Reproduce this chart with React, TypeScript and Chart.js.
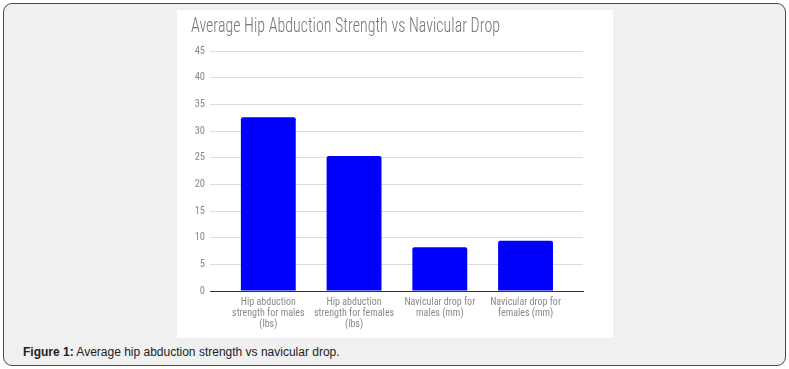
import React, { useEffect, useRef } from "react";
import { Chart, registerables } from "chart.js";

Chart.register(...registerables);

const categories: string[][] = [
  ["Hip abduction", "strength for males", "(lbs)"],
  ["Hip abduction", "strength for females", "(lbs)"],
  ["Navicular drop for", "males (mm)"],
  ["Navicular drop for", "females (mm)"],
];
const values: number[] = [32.6, 25.3, 8.2, 9.4];
const yTicks: number[] = [0, 5, 10, 15, 20, 25, 30, 35, 40, 45];
const titleText = "Average Hip Abduction Strength vs Navicular Drop";

const FONT = "'Roboto Condensed', Roboto, sans-serif";

const titlePlugin = {
  id: "leftTitle",
  afterDraw(chart: any) {
    const ctx = chart.ctx;
    ctx.save();
    ctx.font = `300 19.5px ${FONT}`;
    ctx.fillStyle = "#757575";
    ctx.textAlign = "left";
    ctx.textBaseline = "alphabetic";
    const w = ctx.measureText(titleText).width;
    const target = 309;
    ctx.translate(14, 22.3);
    ctx.scale(target / w, 1);
    ctx.fillText(titleText, 0, 0);
    ctx.restore();
  },
};

export default function App() {
  const ref = useRef<HTMLCanvasElement | null>(null);
  useEffect(() => {
    const c = ref.current;
    if (!c) return;
    const chart = new Chart(c, {
      type: "bar",
      data: {
        datasets: [
          {
            data: values.map((v, i) => ({ x: i, y: v })),
            backgroundColor: "#0000ff",
            borderRadius: 2,
            borderSkipped: "bottom",
            barPercentage: 1,
            categoryPercentage: 0.64,
          },
        ],
      },
      options: {
        responsive: false,
        animation: false,
        layout: { padding: { left: 0, right: 30, top: 41, bottom: 0 } },
        plugins: {
          legend: { display: false },
          tooltip: { enabled: false },
          title: { display: false },
        },
        scales: {
          x: {
            type: "linear",
            offset: false,
            min: -0.68,
            max: 3.67,
            afterBuildTicks: (s: any) => {
              s.ticks = categories.map((_, i) => ({ value: i }));
            },
            afterFit: (s: any) => {
              s.height = 47;
            },
            ticks: {
              autoSkip: false,
              maxRotation: 0,
              padding: 6,
              color: "#8a8a8a",
              font: { family: FONT, size: 10, lineHeight: 1.1 },
              callback: (v: any) => categories[Math.round(Number(v))] ?? "",
            },
            grid: { display: false, drawTicks: false },
            border: { display: true, color: "#333333", width: 1 },
          },
          y: {
            min: 0,
            max: 45,
            afterBuildTicks: (s: any) => {
              s.ticks = yTicks.map((v) => ({ value: v }));
            },
            afterFit: (s: any) => {
              s.width = 33;
            },
            ticks: {
              padding: 5,
              color: "#8a8a8a",
              font: { family: FONT, size: 10.5 },
            },
            grid: { color: "#dcdcdc", drawTicks: false },
            border: { display: false },
          },
        },
      },
      plugins: [titlePlugin],
    });
    return () => chart.destroy();
  }, []);

  return (
    <div style={{ position: "fixed", left: 0, top: 0, width: 789, height: 369, background: "#fff" }}>
      <div
        style={{
          position: "absolute",
          left: 3,
          top: 3,
          width: 781,
          height: 361,
          border: "1px solid #4a4a4a",
          borderRadius: 9,
          background: "#f0f0f0",
        }}
      />
      <div style={{ position: "absolute", left: 177, top: 10, width: 436, height: 328, background: "#fff" }}>
        <canvas ref={ref} width={436} height={328} style={{ display: "block" }} />
      </div>
      <div
        style={{
          position: "absolute",
          left: 23,
          top: 345,
          fontFamily: "'Liberation Sans', Arial, sans-serif",
          fontSize: 12,
          color: "#222",
        }}
      >
        <b>Figure 1:</b> Average hip abduction strength vs navicular drop.
      </div>
    </div>
  );
}
